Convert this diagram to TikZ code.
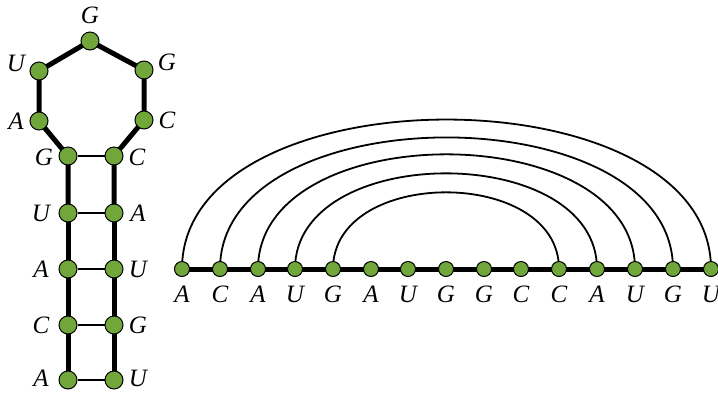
\documentclass[tikz,border=0pt]{standalone}
\usepackage{fontspec}
\setmainfont{Liberation Serif}
\usetikzlibrary{backgrounds}
\definecolor{nodegreen}{RGB}{112,166,58}
\tikzset{
  base/.style={circle, draw=black, line width=1pt, fill=nodegreen, minimum size=18pt, inner sep=0pt},
  bbase/.style={base, minimum size=15pt},
  lbl/.style={font=\fontsize{25}{27}\selectfont\itshape, inner sep=0pt},
  backbone/.style={line width=5pt},
  pair/.style={line width=1.8pt},
}
\begin{document}
\begin{tikzpicture}[x=1pt,y=-1pt]
\useasboundingbox (0,0) rectangle (718,392);
% hairpin loop nodes
\node[base] (l1) at (68,156) {};
\node[base] (l2) at (39,121) {};
\node[base] (l3) at (39,71) {};
\node[base] (l4) at (90,41) {};
\node[base] (l5) at (144,70) {};
\node[base] (l6) at (144,120) {};
\node[base] (l7) at (114,156) {};
% stem nodes
\node[base] (s1) at (68,380) {};
\node[base] (s2) at (68,325) {};
\node[base] (s3) at (68,269) {};
\node[base] (s4) at (68,213) {};
\node[base] (t4) at (114,213) {};
\node[base] (t3) at (114,269) {};
\node[base] (t2) at (114,325) {};
\node[base] (t1) at (114,380) {};
% labels left structure
\node[lbl] (ll1) at (44,157) {G};
\node[lbl] (ll2) at (16,121) {A};
\node[lbl] (ll3) at (16,63) {U};
\node[lbl] (ll4) at (90,15) {G};
\node[lbl] (ll5) at (167,62) {G};
\node[lbl] (ll6) at (167,120) {C};
\node[lbl] (ll7) at (137,157) {C};
\node[lbl] (ls4) at (41,213) {U};
\node[lbl] (ls3) at (41,269) {A};
\node[lbl] (ls2) at (41,325) {C};
\node[lbl] (ls1) at (41,378) {A};
\node[lbl] (lt4) at (138,213) {A};
\node[lbl] (lt3) at (138,269) {U};
\node[lbl] (lt2) at (138,325) {G};
\node[lbl] (lt1) at (138,378) {U};
% linear sequence
\foreach \i/\x/\b in {1/182/A,2/220/C,3/258/A,4/295/U,5/333/G,6/371/A,7/408/U,8/446/G,9/484/G,10/521/C,11/559/C,12/597/A,13/635/U,14/673/G,15/711/U}{
  \node[bbase] (b\i) at (\x,269) {};
  \node[lbl] (bl\i) at (\x,294) {\b};
}
\begin{pgfonlayer}{background}
  \draw[backbone] (s4.center) -- (l1.center) -- (l2.center) -- (l3.center) -- (l4.center) -- (l5.center) -- (l6.center) -- (l7.center) -- (t4.center);
  \draw[backbone] (s1.center) -- (s2.center) -- (s3.center) -- (s4.center);
  \draw[backbone] (t1.center) -- (t2.center) -- (t3.center) -- (t4.center);
  \draw[pair] (l1) -- (l7);
  \draw[pair] (s4) -- (t4);
  \draw[pair] (s3) -- (t3);
  \draw[pair] (s2) -- (t2);
  \draw[pair] (s1) -- (t1);
  \draw[backbone] (b1.center) -- (b15.center);
  \draw[pair] (b1.center) to[out=90,in=90,looseness=0.966] (b15.center);
  \draw[pair] (b2.center) to[out=90,in=90,looseness=0.993] (b14.center);
  \draw[pair] (b3.center) to[out=90,in=90,looseness=1.04] (b13.center);
  \draw[pair] (b4.center) to[out=90,in=90,looseness=1.083] (b12.center);
  \draw[pair] (b5.center) to[out=90,in=90,looseness=1.16] (b11.center);
\end{pgfonlayer}
\end{tikzpicture}
\end{document}
